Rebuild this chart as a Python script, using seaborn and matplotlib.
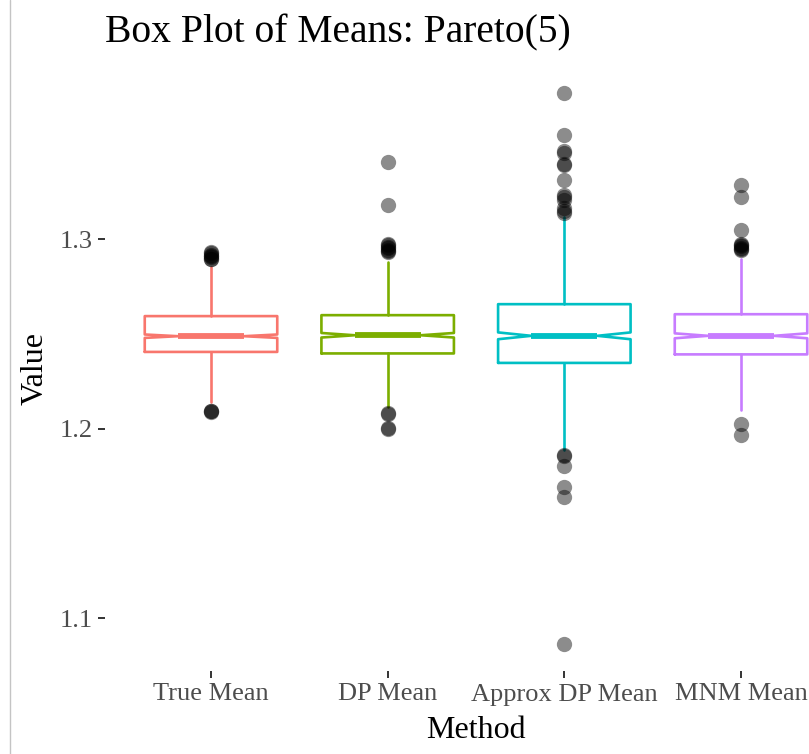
import matplotlib
matplotlib.use("Agg")
import matplotlib.pyplot as plt
from matplotlib.lines import Line2D
import seaborn as sns
import pandas as pd

# ---- data ----
methods = ["True Mean", "DP Mean", "Approx DP Mean", "MNM Mean"]
colors = ["#F8766D", "#7CAE00", "#00BFC4", "#C77CFF"]

q1 = [1.2405, 1.2397, 1.2347, 1.2392]
medians = [1.2488, 1.2493, 1.2490, 1.2490]
q3 = [1.2594, 1.2599, 1.2657, 1.2604]
whisker_low = [1.2141, 1.2115, 1.1887, 1.2098]
whisker_high = [1.2852, 1.2880, 1.3118, 1.2898]
notch_low = [1.2479, 1.2481, 1.2472, 1.2477]
notch_high = [1.2497, 1.2505, 1.2508, 1.2503]

outliers_true = [1.2932, 1.2925, 1.2918, 1.2912, 1.2905, 1.2898, 1.2893,
                 1.2095, 1.2092, 1.2089]
outliers_dp = [1.3408, 1.3179, 1.2975, 1.2968, 1.2960, 1.2952, 1.2945,
               1.2938, 1.2930, 1.2082, 1.2078, 1.2003, 1.1999]
outliers_approx = [1.3769, 1.3549, 1.3464, 1.3455, 1.3399, 1.3392, 1.3311,
                   1.3232, 1.3220, 1.3206, 1.3162, 1.3150, 1.3136,
                   1.1862, 1.1855, 1.1804, 1.1690, 1.1637, 1.0866]
outliers_mnm = [1.3285, 1.3223, 1.3051, 1.2975, 1.2968, 1.2962, 1.2955,
                1.2948, 1.2942, 1.2027, 1.1966]

yticks = [1.1, 1.2, 1.3]
ytick_labels = ["1.1", "1.2", "1.3"]

title = "Box Plot of Means: Pareto(5)"
xlabel = "Method"
ylabel = "Value"

# ---- styling ----
sns.set_theme(style="white")
plt.rcParams["font.family"] = ["Liberation Serif", "DejaVu Serif"]

W, H = 809, 754
fig = plt.figure(figsize=(W / 100, H / 100), dpi=100)
ax = fig.add_axes([105 / W, (H - 671) / H, 742 / W, 605 / H])

stats = []
for i, m in enumerate(methods):
    stats.append(dict(label=m, q1=q1[i], med=medians[i], q3=q3[i],
                      whislo=whisker_low[i], whishi=whisker_high[i],
                      cilo=notch_low[i], cihi=notch_high[i], fliers=[]))

bp = ax.bxp(stats, positions=range(len(methods)), widths=0.75, shownotches=True,
            showcaps=False, showfliers=False, manage_ticks=False,
            boxprops=dict(linewidth=1.9),
            whiskerprops=dict(linewidth=1.9),
            medianprops=dict(linewidth=4.2, solid_capstyle="butt"))
for i, c in enumerate(colors):
    bp["boxes"][i].set_color(c)
    bp["medians"][i].set_color(c)
    bp["whiskers"][2 * i].set_color(c)
    bp["whiskers"][2 * i + 1].set_color(c)

out_df = pd.DataFrame({
    "Method": (["True Mean"] * len(outliers_true) + ["DP Mean"] * len(outliers_dp)
               + ["Approx DP Mean"] * len(outliers_approx)
               + ["MNM Mean"] * len(outliers_mnm)),
    "Value": outliers_true + outliers_dp + outliers_approx + outliers_mnm,
})
sns.stripplot(data=out_df, x="Method", y="Value", order=methods, jitter=False,
              color="black", alpha=0.45, size=11, linewidth=0, ax=ax, zorder=5)

ax.set_xlim(-0.6, len(methods) - 1 + 0.6)
ax.set_ylim(1.0721, 1.3914)
ax.set_yticks(yticks)
ax.set_yticklabels(ytick_labels)
ax.set_xticks(range(len(methods)))
ax.set_xticklabels(methods)

ax.tick_params(axis="both", bottom=True, left=True, length=5, width=1.4,
               color="#333333", labelsize=19, labelcolor="#4D4D4D", pad=4)
sns.despine(ax=ax, left=True, bottom=True, top=True, right=True)

ax.set_xlabel(xlabel, fontsize=23, color="black")
ax.set_ylabel(ylabel, fontsize=23, color="black")
ax.xaxis.label.set_va("baseline")
ax.yaxis.label.set_va("baseline")
ax.xaxis.set_label_coords((476 - 105) / 742, -(738 - 671) / 605)
ax.yaxis.set_label_coords((43 - 105) / 742, 0.5)
ax.set_title(title, loc="left", fontsize=28.5, color="black", pad=17.3)

fig.add_artist(Line2D([10 / W, 10 / W], [0, 1], color="#c4c4c4", linewidth=1))

fig.savefig("out.png", dpi=100)
